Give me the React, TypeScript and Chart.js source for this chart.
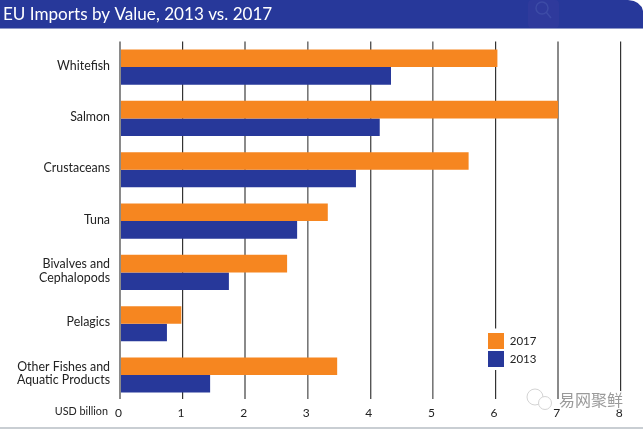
import React, { useEffect, useRef } from "react";
import { Chart, registerables } from "chart.js";

Chart.register(...registerables);

const categories = [
  "Whitefish",
  "Salmon",
  "Crustaceans",
  "Tuna",
  ["Bivalves and", "Cephalopods"],
  "Pelagics",
  ["Other Fishes and", "Aquatic Products"],
];
const values2017 = [6.03, 7.0, 5.57, 3.32, 2.67, 0.98, 3.47];
const values2013 = [4.33, 4.15, 3.77, 2.83, 1.74, 0.75, 1.44];
const titleText = "EU Imports by Value, 2013 vs. 2017";
const unitText = "USD billion";
const watermarkText = "易网聚鲜";
const gridColors = ["#8a8a8a", "#333333", "#8a8a8a", "#777777", "#555555", "#777777", "#333333", "#8a8a8a", "#333333"];
const gridWidths = [2, 1.2, 2, 1.6, 1.4, 1.6, 1.2, 2, 1.2];

const NAVY = "#27389a";
const ORANGE = "#f68620";
const FONT = "Lato, 'Open Sans', sans-serif";

const decor = {
  id: "decor",
  beforeDraw(chart: any) {
    const c = chart.ctx;
    c.save();
    c.fillStyle = "#ffffff";
    c.fillRect(0, 0, 643, 429);
    c.fillStyle = NAVY;
    c.beginPath();
    c.moveTo(0, 0);
    c.lineTo(628, 0);
    c.quadraticCurveTo(641, 1, 643, 11);
    c.lineTo(643, 28);
    c.lineTo(0, 28);
    c.closePath();
    c.fill();
    c.fillStyle = "#8d97c8";
    c.fillRect(0, 28, 643, 1);
    // faint search watermark
    c.fillStyle = "#2f3a9c";
    c.beginPath();
    c.roundRect(528, 0, 31, 28, 4);
    c.fill();
    c.strokeStyle = "#3d4ba6";
    c.lineWidth = 1.5;
    c.beginPath();
    c.arc(542, 8, 6, 0, Math.PI * 2);
    c.moveTo(546.5, 12.5);
    c.lineTo(551, 18);
    c.stroke();
    c.fillStyle = "#c9ced3";
    c.fillRect(0, 427, 643, 2);
    c.restore();
  },
  afterLayout(chart: any) {
    const l = chart.legend;
    const w = l.right - l.left;
    const h = l.bottom - l.top;
    l.left = 486;
    l.right = 486 + w;
    l.top = 331;
    l.bottom = 331 + h;
  },
  afterDatasetsDraw(chart: any) {
    const c = chart.ctx;
    c.save();
    c.fillStyle = "#ffffff";
    c.fillRect(480, 328.5, 60, 41.5);
    c.fillRect(110, 399, 520, 2.5);
    c.fillStyle = "#222222";
    c.font = `10.8px ${FONT}`;
    c.textAlign = "right";
    c.textBaseline = "middle";
    c.fillText(unitText, 108, 412);
    // watermark
    c.strokeStyle = "#d4d4d4";
    c.lineWidth = 1;
    c.fillStyle = "#ffffff";
    c.beginPath();
    c.arc(535, 397, 8, 0, Math.PI * 2);
    c.fill();
    c.stroke();
    c.beginPath();
    c.arc(545, 403, 6.5, 0, Math.PI * 2);
    c.fill();
    c.stroke();
    c.font = "16px 'Noto Sans CJK SC'";
    c.textAlign = "left";
    c.lineWidth = 3;
    c.strokeStyle = "#ffffff";
    c.strokeText(watermarkText, 559, 400);
    c.fillStyle = "#9a9a9a";
    c.fillText(watermarkText, 559, 400);
    c.restore();
    chart.legend.draw();
  },
};

export default function App() {
  const ref = useRef<HTMLCanvasElement>(null);
  useEffect(() => {
    const chart = new Chart(ref.current!, {
      type: "bar",
      data: {
        labels: categories as any,
        datasets: [
          { label: "2017", data: values2017, backgroundColor: ORANGE, categoryPercentage: 0.685, barPercentage: 1 },
          { label: "2013", data: values2013, backgroundColor: NAVY, categoryPercentage: 0.685, barPercentage: 1 },
        ],
      },
      options: {
        indexAxis: "y",
        animation: false,
        responsive: false,
        layout: { padding: { left: 3, right: 22.3, top: 0, bottom: 0 } },
        plugins: {
          title: {
            display: true,
            text: titleText,
            align: "start",
            color: "#ffffff",
            font: { family: FONT, size: 17.1, weight: "normal", lineHeight: 1.2 },
            padding: { top: 4, bottom: 16.9 },
          },
          legend: {
            position: "chartArea" as any,
            align: "start",
            labels: {
              boxWidth: 16,
              boxHeight: 16,
              padding: 2,
              color: "#222222",
              font: { family: FONT, size: 11.5 },
            },
          },
          tooltip: { enabled: false },
        },
        scales: {
          x: {
            min: 0,
            max: 8,
            position: "bottom",
            afterFit(s: any) { s.height = 28.3; },
            ticks: { stepSize: 1, color: "#222222", padding: 5, maxRotation: 0, labelOffset: -1.5, font: { family: FONT, size: 12 } },
            grid: {
              color: (ctx: any) => gridColors[ctx.index] ?? "#333333",
              lineWidth: (ctx: any) => gridWidths[ctx.index] ?? 1,
              drawTicks: false,
            },
            border: { display: false },
          },
          y: {
            afterFit(s: any) { s.width = 117; },
            ticks: { color: "#222222", padding: 10, labelOffset: -1.5, font: { family: FONT, size: 12.4, lineHeight: 1.12 } },
            grid: { display: false, drawTicks: false },
            border: { display: false },
          },
        },
      },
      plugins: [decor],
    } as any);
    return () => chart.destroy();
  }, []);
  return (
    <canvas
      ref={ref}
      width={643}
      height={429}
      style={{ position: "absolute", left: 0, top: 0, display: "block" }}
    />
  );
}
